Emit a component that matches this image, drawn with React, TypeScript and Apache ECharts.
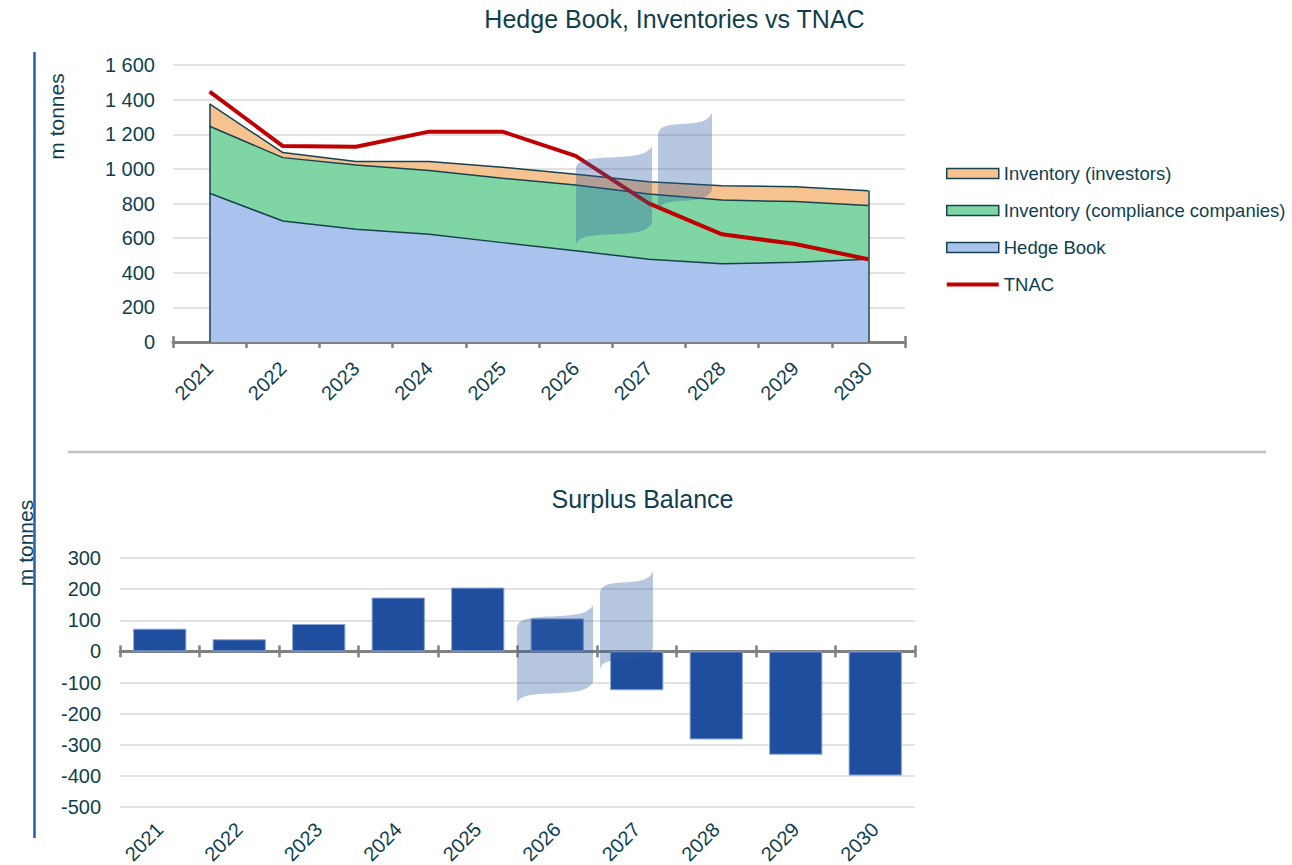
import React, { useEffect, useRef } from "react";
import * as echarts from "echarts";

// ---------- data ----------
const years = ["2021", "2022", "2023", "2024", "2025", "2026", "2027", "2028", "2029", "2030"];
const hedgeBook = [859, 699, 651, 622, 574, 527, 478, 452, 460, 478];
const inventoryCompliance = [387, 366, 371, 368, 372, 380, 377, 368, 351, 310];
const inventoryInvestors = [129, 29, 20, 52, 63, 62, 71, 83, 86, 86];
const tnac = [1446, 1132, 1128, 1215, 1215, 1075, 801, 622, 566, 478];
const surplus = [73, 39, 88, 173, 205, 106, -125, -283, -332, -399];

const topTitle = "Hedge Book, Inventories vs TNAC";
const bottomTitle = "Surplus Balance";
const unitLabel = "m tonnes";

// ---------- styles ----------
const TEXT = "#0F3F4F";
const FONT = "'Liberation Sans', Arial, sans-serif";
const EDGE = "#17434F";
const ORANGE = "#F6C28F";
const GREEN = "#7FD6A4";
const BLUE = "#A9C3EE";
const RED = "#C00000";
const BAR = "#1F4E9E";
const AXIS = "#808080";
const GRID = "#D9D9D9";
const WAVE = "rgba(44,90,160,0.34)";

// decorative "break" ribbon, 100 wide, skew 21, thickness 77
const waveD =
  "M0 21 C3 15 12 13 30 12 C60 11 85 10 92 6 C96 4 99 2 100 0 " +
  "L100 77 C99 79 96 81 92 83 C85 87 60 88 30 89 C12 90 3 92 0 98 Z";
echarts.graphic.registerShape("wave", echarts.graphic.extendPath(waveD, {}));

const fmtThousands = (v: number) => {
  const s = String(Math.abs(v));
  const out = s.replace(/\B(?=(\d{3})+(?!\d))/g, " ");
  return (v < 0 ? "-" : "") + out;
};

const totals = hedgeBook.map((v, i) => v + inventoryCompliance[i] + inventoryInvestors[i]);

export default function App() {
  const ref = useRef<HTMLDivElement>(null);
  useEffect(() => {
    if (!ref.current) return;
    const chart = echarts.init(ref.current, null, { renderer: "svg" });
    const last = years.length - 1;

    const wave = (x: number, y: number, w: number) => ({
      type: "wave",
      x,
      y,
      scaleX: w / 100,
      scaleY: 1,
      z: 100,
      silent: true,
      style: { fill: WAVE },
    });

    const option: any = {
      animation: false,
      backgroundColor: "#ffffff",
      textStyle: { fontFamily: FONT, color: TEXT },
      grid: [
        { left: 173, top: 65, width: 732, height: 277, outerBoundsMode: "none", containLabel: false },
        { left: 120, top: 558, width: 795, height: 249, outerBoundsMode: "none", containLabel: false },
      ],
      legend: {
        orient: "vertical",
        left: 941,
        top: 157.5,
        itemWidth: 52,
        itemHeight: 10,
        itemGap: 15,
        selectedMode: false,
        textStyle: { fontSize: 18.5, color: TEXT, fontFamily: FONT, lineHeight: 22 },
        data: [
          { name: "Inventory (investors)", icon: "rect", itemStyle: { color: ORANGE, borderColor: EDGE, borderWidth: 1.5 } },
          { name: "Inventory (compliance companies)", icon: "rect", itemStyle: { color: GREEN, borderColor: EDGE, borderWidth: 1.5 } },
          { name: "Hedge Book", icon: "rect", itemStyle: { color: BLUE, borderColor: EDGE, borderWidth: 1.5 } },
          { name: "TNAC", icon: "path://M0 0 H52 V4 H0 Z", itemStyle: { color: RED, borderWidth: 0 } },
        ],
      },
      xAxis: [
        {
          type: "category", gridIndex: 0, position: "bottom", data: years,
          axisLine: { lineStyle: { color: AXIS, width: 3 } },
          axisTick: { show: true, inside: false, length: 6, lineStyle: { color: AXIS, width: 2.5 } },
          axisLabel: { rotate: 45, fontSize: 20, color: TEXT, fontFamily: FONT, margin: 23 },
          splitLine: { show: false },
        },
        {
          type: "category", gridIndex: 0, position: "bottom", data: years,
          axisLine: { show: false },
          axisTick: { show: true, inside: true, length: 6, lineStyle: { color: AXIS, width: 2.5 } },
          axisLabel: { show: false },
          splitLine: { show: false },
        },
        {
          type: "category", gridIndex: 1, position: "bottom", data: years,
          axisLine: { onZero: true, lineStyle: { color: AXIS, width: 3 } },
          axisTick: { show: true, inside: false, length: 6, lineStyle: { color: AXIS, width: 2.5 } },
          axisLabel: { show: false },
          splitLine: { show: false },
        },
        {
          type: "category", gridIndex: 1, position: "bottom", data: years,
          axisLine: { show: false, onZero: true },
          axisTick: { show: true, inside: true, length: 6, lineStyle: { color: AXIS, width: 2.5 } },
          axisLabel: { show: false },
          splitLine: { show: false },
        },
        {
          type: "category", gridIndex: 1, position: "bottom", data: years,
          axisLine: { show: false, onZero: false },
          axisTick: { show: false },
          axisLabel: { rotate: 45, fontSize: 20, color: TEXT, fontFamily: FONT, margin: 19 },
          splitLine: { show: false },
        },
      ],
      yAxis: [
        {
          type: "value", gridIndex: 0, min: 0, max: 1600, interval: 200,
          axisLine: { show: false }, axisTick: { show: false },
          axisLabel: { fontSize: 20, color: TEXT, fontFamily: FONT, margin: 18, formatter: fmtThousands },
          splitLine: { lineStyle: { color: GRID, width: 1.5 } },
        },
        {
          type: "value", gridIndex: 1, min: -500, max: 300, interval: 100,
          axisLine: { show: false }, axisTick: { show: false },
          axisLabel: { fontSize: 20, color: TEXT, fontFamily: FONT, margin: 19, formatter: fmtThousands },
          splitLine: { lineStyle: { color: GRID, width: 1.5 } },
        },
        {
          type: "value", gridIndex: 1, min: -500, max: 300, interval: 100, show: false,
          splitLine: { show: false },
        },
      ],
      series: [
        {
          name: "Hedge Book", type: "line", stack: "inv", data: hedgeBook,
          xAxisIndex: 0, yAxisIndex: 0, symbol: "none",
          itemStyle: { color: BLUE },
          lineStyle: { color: EDGE, width: 1.5 },
          areaStyle: { color: BLUE, opacity: 1 },
          markLine: {
            silent: true, symbol: ["none", "none"],
            label: { show: false },
            lineStyle: { color: EDGE, width: 1.5, type: "solid" },
            data: [
              [{ coord: [years[0], 0] }, { coord: [years[0], totals[0]] }],
              [{ coord: [years[last], 0] }, { coord: [years[last], totals[last]] }],
            ],
          },
        },
        {
          name: "Inventory (compliance companies)", type: "line", stack: "inv", data: inventoryCompliance,
          xAxisIndex: 0, yAxisIndex: 0, symbol: "none",
          itemStyle: { color: GREEN },
          lineStyle: { color: EDGE, width: 1.5 },
          areaStyle: { color: GREEN, opacity: 1 },
        },
        {
          name: "Inventory (investors)", type: "line", stack: "inv", data: inventoryInvestors,
          xAxisIndex: 0, yAxisIndex: 0, symbol: "none",
          itemStyle: { color: ORANGE },
          lineStyle: { color: EDGE, width: 1.5 },
          areaStyle: { color: ORANGE, opacity: 1 },
        },
        {
          name: "TNAC", type: "line", data: tnac, xAxisIndex: 0, yAxisIndex: 0,
          symbol: "none", z: 6,
          itemStyle: { color: RED },
          lineStyle: { color: RED, width: 4 },
        },
        {
          name: "Surplus", type: "bar", data: surplus, xAxisIndex: 2, yAxisIndex: 1,
          barCategoryGap: "33%",
          itemStyle: { color: BAR, borderColor: "#8CA6D4", borderWidth: 1 },
        },
      ],
      graphic: [
        { type: "line", silent: true, shape: { x1: 34.5, y1: 52, x2: 34.5, y2: 838 }, style: { stroke: "#2A5CAA", lineWidth: 2.5 } },
        { type: "line", silent: true, shape: { x1: 68, y1: 452, x2: 1266, y2: 452 }, style: { stroke: "#C0C0C0", lineWidth: 2.5 } },
        {
          type: "text", silent: true, x: 674.5, y: 19,
          style: { text: topTitle, fill: TEXT, font: `25px ${FONT}`, textAlign: "center", textVerticalAlign: "middle" },
        },
        {
          type: "text", silent: true, x: 642.5, y: 499,
          style: { text: bottomTitle, fill: TEXT, font: `25px ${FONT}`, textAlign: "center", textVerticalAlign: "middle" },
        },
        {
          type: "text", silent: true, x: 56, y: 116.5, rotation: Math.PI / 2,
          style: { text: unitLabel, fill: TEXT, font: `21px ${FONT}`, textAlign: "center", textVerticalAlign: "middle" },
        },
        {
          type: "text", silent: true, x: 25, y: 543, rotation: Math.PI / 2,
          style: { text: unitLabel, fill: TEXT, font: `21px ${FONT}`, textAlign: "center", textVerticalAlign: "middle" },
        },
        wave(576, 146, 76),
        wave(658, 112.5, 54),
        wave(517, 605, 76),
        wave(600, 571, 53),
      ],
    };
    chart.setOption(option);
    return () => chart.dispose();
  }, []);
  return <div ref={ref} style={{ position: "absolute", left: 0, top: 0, width: 1292, height: 865 }} />;
}
